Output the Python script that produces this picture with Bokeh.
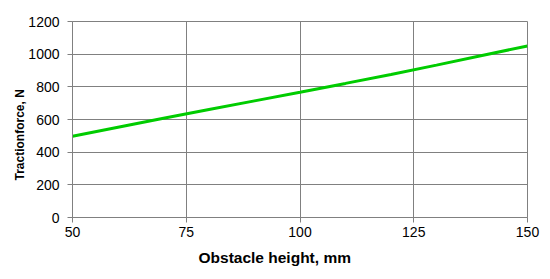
from bokeh.plotting import figure
from bokeh.models import FixedTicker, Range1d, Title
from bokeh.embed import file_html
from bokeh.resources import INLINE

height_mm = [50, 60, 70, 80, 90, 100, 110, 120, 130, 140, 150]
traction_n = [498, 553, 608, 661, 714, 767, 821, 876, 933, 992, 1050]
x_ticks = [50, 75, 100, 125, 150]
y_ticks = [0, 200, 400, 600, 800, 1000, 1200]
x_title = "Obstacle height, mm"
y_title = "Tractionforce, N"

p = figure(output_backend="svg", toolbar_location=None,
           frame_width=455, frame_height=196,
           min_border_left=72, min_border_right=15, min_border_top=21, min_border_bottom=54,
           x_range=Range1d(50, 150), y_range=Range1d(0, 1200))
p.line(height_mm, traction_n, line_color="#00CC00", line_width=3)

p.xaxis.ticker = FixedTicker(ticks=x_ticks)
p.yaxis.ticker = FixedTicker(ticks=y_ticks)
for ax in (p.xaxis[0], p.yaxis[0]):
    ax.axis_line_color = "#808080"
    ax.major_tick_line_color = "#808080"
    ax.major_tick_out = 5
    ax.major_tick_in = 0
    ax.minor_tick_line_color = None
    ax.major_label_text_font = "Liberation Sans"
    ax.major_label_text_font_size = "14px"
    ax.major_label_text_color = "#000000"
p.xaxis.major_label_standoff = 4
p.yaxis.major_label_standoff = 8

# axis titles placed as in the reference (offset from the frame centre)
p.add_layout(Title(text=x_title, align="left", offset=126, standoff=15,
                   text_font="Liberation Sans", text_font_style="bold",
                   text_font_size="15.5px", text_color="#000000"), "below")
p.add_layout(Title(text=y_title, align="left", offset=37, standoff=-3,
                   text_font="Liberation Sans", text_font_style="bold",
                   text_font_size="12px", text_color="#000000"), "left")

p.grid.grid_line_color = "#808080"
p.grid.grid_line_alpha = 1.0
p.outline_line_color = "#808080"
p.background_fill_color = "white"
p.border_fill_color = "white"

open("out.html", "w").write(file_html(p, INLINE))
